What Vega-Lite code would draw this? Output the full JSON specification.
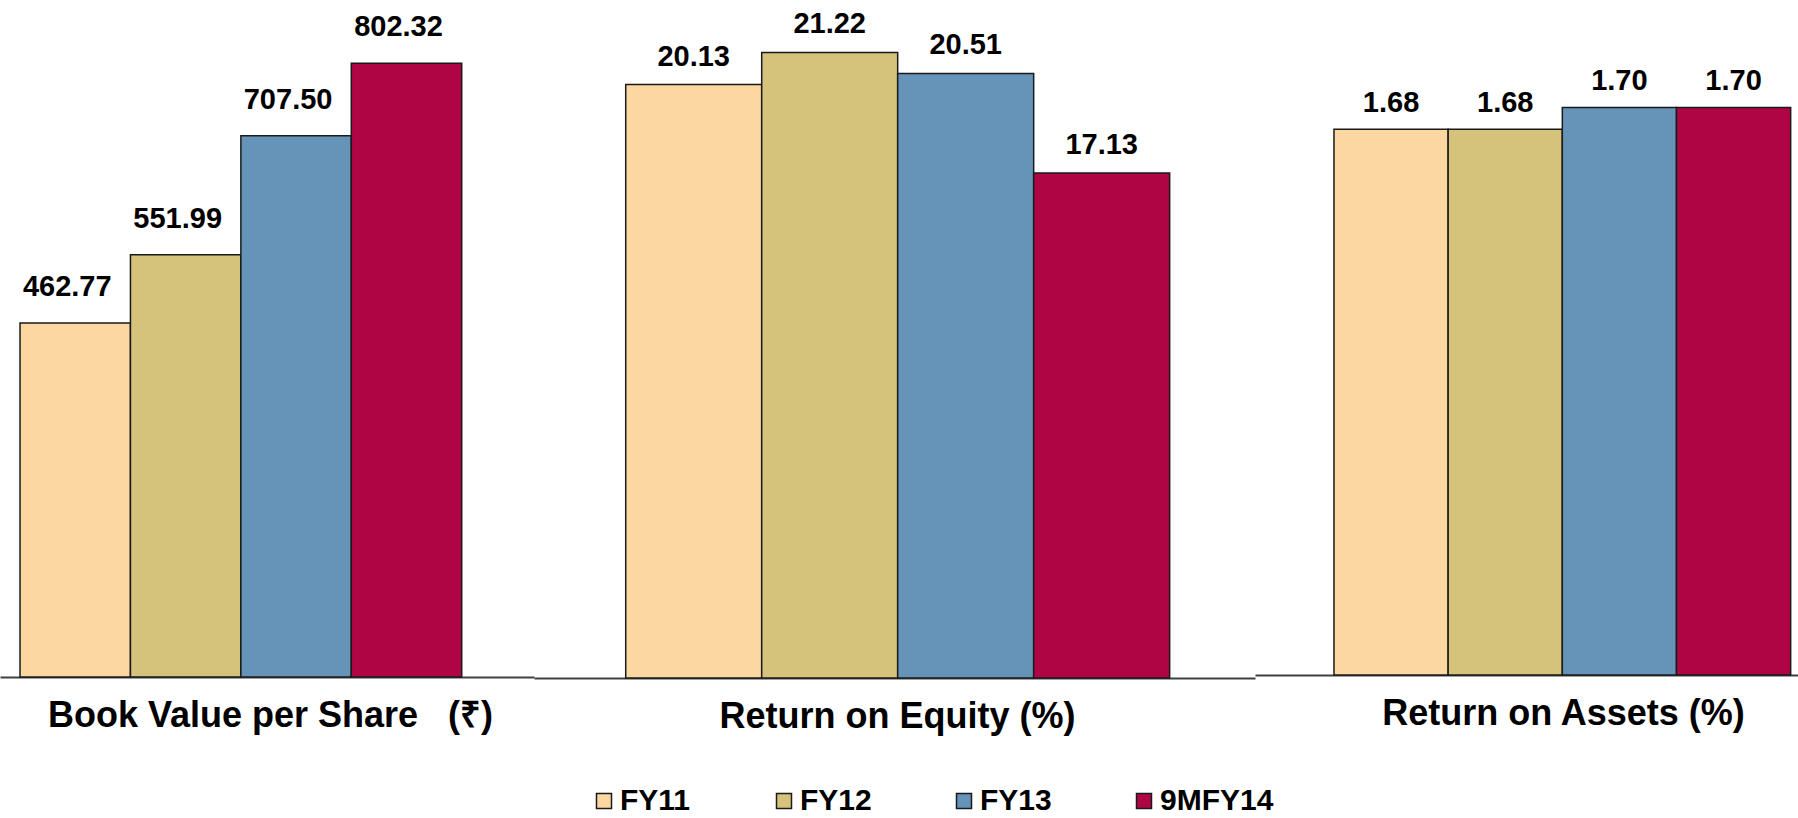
{
  "$schema": "https://vega.github.io/schema/vega-lite/v6.json",
  "padding": 0,
  "background": "white",
  "bounds": "flush",
  "spacing": 0,
  "config": {
    "view": {"stroke": null},
    "axis": {
      "domainColor": "#404040",
      "domainWidth": 2,
      "labels": false,
      "ticks": false,
      "grid": false,
      "titleFont": "Liberation Sans",
      "titleFontSize": 36,
      "titleFontWeight": "bold",
      "titleColor": "#000000",
      "titlePadding": 21
    },
    "text": {"font": "Liberation Sans", "fontSize": 29, "fontWeight": "bold", "color": "#000000"}
  },
  "data": {
    "values": [
      {"panel": "BV", "year": "FY11", "value": 462.77},
      {"panel": "BV", "year": "FY12", "value": 551.99},
      {"panel": "BV", "year": "FY13", "value": 707.50},
      {"panel": "BV", "year": "9MFY14", "value": 802.32},
      {"panel": "ROE", "year": "FY11", "value": 20.13},
      {"panel": "ROE", "year": "FY12", "value": 21.22},
      {"panel": "ROE", "year": "FY13", "value": 20.51},
      {"panel": "ROE", "year": "9MFY14", "value": 17.13},
      {"panel": "ROA", "year": "FY11", "value": 1.68},
      {"panel": "ROA", "year": "FY12", "value": 1.68},
      {"panel": "ROA", "year": "FY13", "value": 1.70},
      {"panel": "ROA", "year": "9MFY14", "value": 1.70}
    ]
  },
  "resolve": {"scale": {"x": "independent", "y": "independent", "color": "shared"}},
  "hconcat": [
    {
      "width": 534,
      "height": 677,
      "transform": [{"filter": "datum.panel == 'BV'"}],
      "encoding": {
        "x": {
          "field": "year", "type": "nominal",
          "scale": {"domain": ["FY11", "FY12", "FY13", "9MFY14"], "paddingInner": 0, "paddingOuter": 0.418, "align": 0.217},
          "axis": {"title": "Book Value per Share\u00a0\u00a0 (₹)", "titleX": 270}
        },
        "y": {"field": "value", "type": "quantitative", "scale": {"domain": [0, 885]}, "axis": null}
      },
      "layer": [
        {
          "mark": {"type": "bar", "stroke": "#1a1a1a", "strokeWidth": 1.5},
          "encoding": {
            "color": {
              "field": "year", "type": "nominal",
              "scale": {"domain": ["FY11", "FY12", "FY13", "9MFY14"], "range": ["#FCD7A1", "#D5C37B", "#6693B8", "#AF0545"]},
              "legend": {
                "orient": "none", "legendX": 589, "legendY": 786, "direction": "horizontal", "columns": 4,
                "gridAlign": "all", "columnPadding": 35, "title": null, "padding": 0,
                "symbolType": "square", "symbolSize": 225, "symbolStrokeColor": "#222222", "symbolStrokeWidth": 1.5,
                "labelFont": "Liberation Sans", "labelFontSize": 30, "labelFontWeight": "bold", "labelColor": "#000000",
                "labelOffset": 1, "labelLimit": 400
              }
            }
          }
        },
        {
          "mark": {"type": "text", "baseline": "alphabetic", "dy": -27, "dx": -8},
          "encoding": {"text": {"field": "value", "type": "quantitative", "format": ".2f"}}
        }
      ]
    },
    {
      "width": 721,
      "height": 678,
      "transform": [{"filter": "datum.panel == 'ROE'"}],
      "encoding": {
        "x": {
          "field": "year", "type": "nominal",
          "scale": {"domain": ["FY11", "FY12", "FY13", "9MFY14"], "paddingInner": 0, "paddingOuter": 0.651, "align": 0.518},
          "axis": {"title": "Return on Equity (%)", "titleX": 363}
        },
        "y": {"field": "value", "type": "quantitative", "scale": {"domain": [0, 23]}, "axis": null}
      },
      "layer": [
        {
          "mark": {"type": "bar", "stroke": "#1a1a1a", "strokeWidth": 1.5},
          "encoding": {
            "color": {
              "field": "year", "type": "nominal",
              "scale": {"domain": ["FY11", "FY12", "FY13", "9MFY14"], "range": ["#FCD7A1", "#D5C37B", "#6693B8", "#AF0545"]}
            }
          }
        },
        {
          "mark": {"type": "text", "baseline": "alphabetic", "dy": -19},
          "encoding": {"text": {"field": "value", "type": "quantitative", "format": ".2f"}}
        }
      ]
    },
    {
      "width": 543,
      "height": 675,
      "transform": [{"filter": "datum.panel == 'ROA'"}],
      "encoding": {
        "x": {
          "field": "year", "type": "nominal",
          "scale": {"domain": ["FY11", "FY12", "FY13", "9MFY14"], "paddingInner": 0, "paddingOuter": 0.378, "align": 0.915},
          "axis": {"title": "Return on Assets (%)", "titleX": 308}
        },
        "y": {"field": "value", "type": "quantitative", "scale": {"domain": [1.177, 1.799], "zero": false, "clamp": true}, "axis": null}
      },
      "layer": [
        {
          "mark": {"type": "bar", "stroke": "#1a1a1a", "strokeWidth": 1.5},
          "encoding": {
            "color": {
              "field": "year", "type": "nominal",
              "scale": {"domain": ["FY11", "FY12", "FY13", "9MFY14"], "range": ["#FCD7A1", "#D5C37B", "#6693B8", "#AF0545"]}
            }
          }
        },
        {
          "mark": {"type": "text", "baseline": "alphabetic", "dy": -17},
          "encoding": {"text": {"field": "value", "type": "quantitative", "format": ".2f"}}
        }
      ]
    }
  ]
}
